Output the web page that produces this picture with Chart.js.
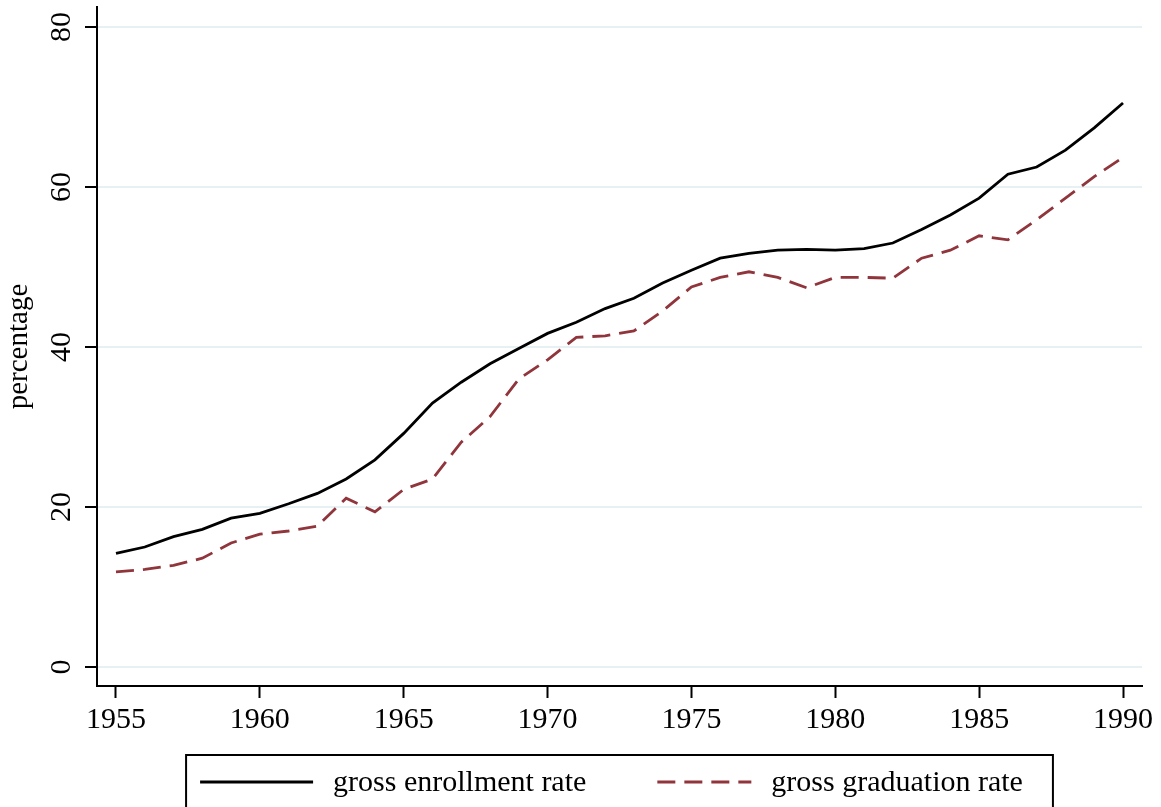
<!DOCTYPE html>
<html>
<head>
<meta charset="utf-8">
<title>Gross enrollment and graduation rates, 1955–1990</title>
<script src="https://cdn.jsdelivr.net/npm/chart.js@4.4.1/dist/chart.umd.min.js"></script>
<style>
  html, body { margin: 0; padding: 0; background: #fff; }
  canvas { display: block; }
</style>
</head>
<body>
<canvas id="chart" width="1161" height="807"></canvas>
<script>
// Years covered by the series
const years = [
  1955, 1956, 1957, 1958, 1959, 1960, 1961, 1962, 1963, 1964,
  1965, 1966, 1967, 1968, 1969, 1970, 1971, 1972, 1973, 1974,
  1975, 1976, 1977, 1978, 1979, 1980, 1981, 1982, 1983, 1984,
  1985, 1986, 1987, 1988, 1989, 1990
];

// Gross enrollment rate (%)
const enrollmentRate = [
  14.2, 15.0, 16.3, 17.2, 18.6, 19.2, 20.4, 21.7, 23.5, 25.9,
  29.2, 33.0, 35.6, 37.9, 39.8, 41.7, 43.1, 44.8, 46.1, 48.0,
  49.6, 51.1, 51.7, 52.1, 52.2, 52.1, 52.3, 53.0, 54.7, 56.5,
  58.6, 61.6, 62.5, 64.6, 67.4, 70.5
];

// Gross graduation rate (%)
const graduationRate = [
  11.9, 12.2, 12.7, 13.6, 15.5, 16.6, 17.0, 17.6, 21.1, 19.4,
  22.2, 23.5, 28.1, 31.3, 36.0, 38.4, 41.2, 41.4, 42.0, 44.5,
  47.5, 48.7, 49.4, 48.7, 47.4, 48.7, 48.7, 48.6, 51.1, 52.1,
  53.9, 53.4, 55.9, 58.6, 61.3, 63.7
];

// Axis tick labels
const xTicks = [1955, 1960, 1965, 1970, 1975, 1980, 1985, 1990];
const yTicks = [0, 20, 40, 60, 80];

const seriesLabels = ['gross enrollment rate', 'gross graduation rate'];

const SERIF = '"Liberation Serif", "Times New Roman", serif';
const MAROON = '#90353b';
const GRID = '#e7f0f2';

const toPoints = vals => years.map((yr, i) => ({ x: yr, y: vals[i] }));

// Rotated y tick labels and the y-axis title
const yAxisText = {
  id: 'yAxisText',
  afterDraw(chart) {
    const { ctx, scales: { y }, chartArea } = chart;
    ctx.save();
    ctx.fillStyle = '#000';
    ctx.textAlign = 'center';
    ctx.textBaseline = 'alphabetic';
    ctx.font = '30px ' + SERIF;
    y.ticks.forEach(t => {
      const py = y.getPixelForValue(t.value);
      ctx.save();
      ctx.translate(70, py);
      ctx.rotate(-Math.PI / 2);
      ctx.fillText(String(t.value), 0, 0);
      ctx.restore();
    });
    ctx.font = '29px ' + SERIF;
    ctx.translate(27, (chartArea.top + chartArea.bottom) / 2);
    ctx.rotate(-Math.PI / 2);
    ctx.fillText('percentage', 0, 0);
    ctx.restore();
  }
};

// Boxed legend below the x axis
const boxedLegend = {
  id: 'boxedLegend',
  afterDraw(chart) {
    const { ctx, chartArea } = chart;
    const ds = chart.data.datasets;
    ctx.save();
    ctx.font = '30px ' + SERIF;
    const padL = 14, padR = 30, gap = 20, itemGap = 71;
    const sampleLens = [113, 94];
    const widths = ds.map(d => ctx.measureText(d.label).width);
    let total = padL + padR;
    ds.forEach((d, i) => { total += sampleLens[i] + gap + widths[i]; });
    total += itemGap * (ds.length - 1);
    const cx = (chartArea.left + chartArea.right) / 2;
    const left = cx - total / 2;
    const top = 755, midY = 782;

    ctx.strokeStyle = '#000';
    ctx.lineWidth = 2;
    ctx.strokeRect(left, top, total, 80);

    let x = left + padL;
    ds.forEach((d, i) => {
      ctx.beginPath();
      ctx.strokeStyle = d.borderColor;
      ctx.lineWidth = d.borderWidth;
      ctx.setLineDash(d.borderDash || []);
      ctx.moveTo(x, midY);
      ctx.lineTo(x + sampleLens[i], midY);
      ctx.stroke();
      ctx.setLineDash([]);
      x += sampleLens[i] + gap;
      ctx.fillStyle = '#000';
      ctx.textAlign = 'left';
      ctx.textBaseline = 'middle';
      ctx.fillText(d.label, x, midY + 1);
      x += widths[i] + itemGap;
    });
    ctx.restore();
  }
};

new Chart(document.getElementById('chart'), {
  type: 'line',
  data: {
    datasets: [
      {
        label: seriesLabels[0],
        data: toPoints(enrollmentRate),
        borderColor: '#000',
        borderWidth: 2.8,
        pointRadius: 0,
        tension: 0,
        fill: false
      },
      {
        label: seriesLabels[1],
        data: toPoints(graduationRate),
        borderColor: MAROON,
        borderWidth: 2.8,
        borderDash: [18, 9],
        pointRadius: 0,
        tension: 0,
        fill: false
      }
    ]
  },
  options: {
    responsive: false,
    animation: false,
    devicePixelRatio: 1,
    layout: { padding: { top: 7, right: 19, left: 0, bottom: 0 } },
    plugins: {
      legend: { display: false },
      tooltip: { enabled: false }
    },
    scales: {
      x: {
        type: 'linear',
        min: 1954.34,
        max: 1990.66,
        afterBuildTicks: s => { s.ticks = xTicks.map(v => ({ value: v })); },
        afterFit: s => { s.height = 121; },
        ticks: {
          color: '#000',
          font: { family: SERIF, size: 30 },
          padding: 4,
          maxRotation: 0,
          autoSkip: false,
          callback: v => String(v)
        },
        grid: {
          drawOnChartArea: false,
          drawTicks: true,
          tickLength: 12,
          tickColor: '#000',
          tickWidth: 2
        },
        border: { display: true, color: '#000', width: 2 }
      },
      y: {
        type: 'linear',
        min: -2.375,
        max: 82.5,
        afterBuildTicks: s => { s.ticks = yTicks.map(v => ({ value: v })); },
        afterFit: s => { s.width = 97; },
        ticks: { display: false },
        grid: {
          color: GRID,
          lineWidth: 2,
          drawTicks: true,
          tickLength: 12,
          tickColor: '#000',
          tickWidth: 2
        },
        border: { display: true, color: '#000', width: 2 }
      }
    }
  },
  plugins: [yAxisText, boxedLegend]
});
</script>
</body>
</html>
